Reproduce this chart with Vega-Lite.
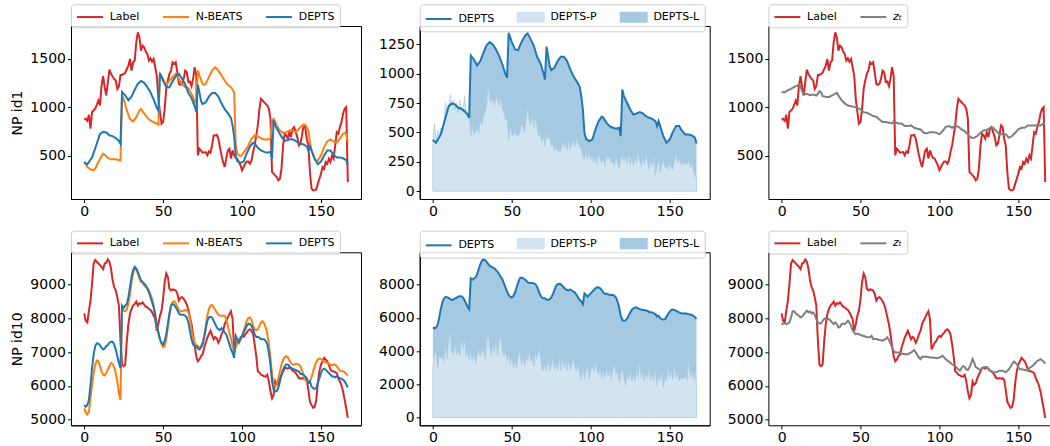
{
"$schema": "https://vega.github.io/schema/vega-lite/v6.json",
"background": "white",
"padding": {"left": 10, "top": 3, "right": 0, "bottom": 0},
"config": {
  "font": "DejaVu Sans",
  "view": {"stroke": "black", "strokeWidth": 1},
  "mark": {"invalid": "filter"},
  "axis": {"grid": false, "domain": true, "domainColor": "black", "domainWidth": 1, "tickColor": "black", "tickSize": 3.5, "tickWidth": 1, "labelFont": "DejaVu Sans", "labelFontSize": 14, "labelColor": "black", "labelPadding": 2, "labelFlush": false, "labelOverlap": false, "format": "d", "titleFont": "DejaVu Sans", "titleFontSize": 14, "titleFontWeight": "normal", "titleColor": "black", "titlePadding": 5},
  "legend": {"labelFont": "DejaVu Sans", "labelFontSize": 11, "labelColor": "black"}
},
"datasets": {
"id1": [
{"t":0,"l":873,"n":435,"d":435,"p":440,"z":1154},
{"t":1,"l":880,"p":577},
{"t":2,"l":860,"n":384,"d":412,"p":426,"z":1154},
{"t":3,"l":921,"p":526},
{"t":4,"l":778,"n":360,"p":469,"z":1174},
{"t":5,"l":950,"d":483,"p":540},
{"t":6,"n":350,"p":497,"z":1188},
{"t":7,"l":983,"n":367,"p":582},
{"t":8,"d":625,"p":753,"z":1209},
{"t":9,"l":1068,"n":435,"p":653},
{"t":10,"l":1017,"d":724,"p":696,"z":1222},
{"t":11,"l":1222,"n":497,"p":824,"z":1233},
{"t":12,"l":1318,"n":521,"d":747,"p":724,"z":1209},
{"t":13,"l":1205,"n":511,"p":781,"z":1164},
{"t":14,"l":1120,"d":739,"p":696,"z":1130},
{"t":15,"l":1257,"n":477,"p":753},
{"t":16,"l":1387,"d":710,"p":668,"z":1137},
{"t":17,"l":1342,"n":463,"p":781},
{"t":18,"d":702,"p":696,"z":1123},
{"t":19,"l":1290,"p":668},
{"t":20,"l":1274,"n":463,"d":682,"p":810,"z":1130},
{"t":21,"l":1188,"p":682},
{"t":22,"l":1215,"d":653,"p":668,"z":1120},
{"t":23,"l":1332,"n":452,"d":625,"p":639,"z":1137},
{"t":24,"l":1332,"n":1120,"d":1156,"p":469,"z":1164},
{"t":25,"n":1086,"p":560,"z":1154},
{"t":26,"l":1352,"d":1122,"p":483,"z":1113},
{"t":27,"l":1393,"n":966,"p":511},
{"t":28,"l":1428,"d":1071,"p":540,"z":1106},
{"t":29,"l":1496,"n":880,"p":497},
{"t":30,"l":1376,"d":1108,"p":611,"z":1103},
{"t":31,"l":1462,"n":853,"p":568},
{"t":32,"l":1480,"d":1179,"p":645,"z":1120},
{"t":33,"l":1667,"n":897,"p":668},
{"t":34,"l":1770,"d":1242,"p":724,"z":1140},
{"t":35,"l":1718,"n":966,"p":909,"z":1147},
{"t":36,"l":1582,"n":983,"d":1270,"p":781,"z":1120},
{"t":37,"l":1633,"n":956,"p":753},
{"t":38,"l":1616,"d":1250,"p":795,"z":1072},
{"t":39,"l":1571,"n":914,"p":724},
{"t":40,"l":1548,"d":1207,"p":810,"z":1038},
{"t":41,"l":1480,"n":873,"p":781},
{"t":42,"l":1503,"d":1151,"p":724,"z":1017},
{"t":43,"l":1469,"n":853,"p":810},
{"t":44,"l":1496,"d":1080,"p":696,"z":1010},
{"t":45,"l":1411,"n":839,"p":668},
{"t":46,"l":1325,"d":994,"p":611,"z":1003},
{"t":47,"l":1086,"n":819,"d":966,"p":611},
{"t":48,"l":949,"n":1342,"d":1349,"p":426,"z":993},
{"t":49,"l":829,"p":554},
{"t":50,"l":846,"n":1291,"d":1270,"p":483,"z":976},
{"t":51,"l":983,"p":469},
{"t":52,"l":1188,"n":1222,"d":1207,"p":511,"z":949},
{"t":53,"l":1274,"p":474},
{"t":54,"l":1342,"n":1274,"d":1202,"p":469,"z":942},
{"t":55,"l":1376,"d":1236,"p":497},
{"t":56,"l":1462,"n":1308,"p":568,"z":925},
{"t":57,"l":1445,"d":1293,"p":554},
{"t":58,"l":1462,"n":1342,"p":497,"z":908},
{"t":59,"l":1359,"d":1335,"p":611},
{"t":60,"l":1240,"n":1291,"d":1344,"p":710,"z":901},
{"t":61,"l":1230,"p":611},
{"t":62,"l":1240,"n":1240,"d":1293,"p":568,"z":873},
{"t":63,"l":1291,"p":653},
{"t":64,"l":1376,"n":1205,"d":1236,"p":540,"z":846},
{"t":65,"l":1359,"p":639},
{"t":66,"l":1257,"n":1195,"d":1145,"p":554,"z":846},
{"t":67,"l":1264,"p":469},
{"t":68,"l":1215,"n":1137,"d":1094,"p":497,"z":839},
{"t":69,"l":1291,"n":1103,"p":412},
{"t":70,"l":1411,"n":1051,"d":1009,"p":483,"z":832},
{"t":71,"l":1325,"n":1086,"d":952,"p":384,"z":853},
{"t":72,"l":504,"n":1376,"d":1230,"p":497,"z":846},
{"t":73,"l":572,"n":1325,"d":1151,"p":440},
{"t":74,"l":555,"d":1065,"p":469,"z":832},
{"t":75,"l":531,"n":1240,"d":1031,"p":384},
{"t":76,"n":1230,"p":398,"z":832},
{"t":77,"l":538,"n":1240,"d":1051,"p":341},
{"t":78,"l":504,"p":384,"z":805},
{"t":79,"l":545,"n":1308,"d":1108,"p":341},
{"t":80,"l":531,"p":341,"z":805},
{"t":81,"l":606,"n":1376,"d":1145,"p":341},
{"t":82,"l":709,"p":440,"z":812},
{"t":83,"l":709,"n":1411,"d":1145,"p":369},
{"t":84,"l":716,"p":426,"z":788},
{"t":85,"l":675,"n":1376,"d":1108,"p":355},
{"t":86,"l":589,"p":440,"z":778},
{"t":87,"l":504,"n":1325,"d":1037,"p":355},
{"t":88,"l":435,"p":398,"z":771},
{"t":89,"l":384,"n":1274,"d":980,"p":440},
{"t":90,"l":470,"p":384,"z":737},
{"t":91,"l":555,"n":1230,"d":938,"p":455},
{"t":92,"l":572,"p":398,"z":730},
{"t":93,"l":470,"n":1205,"d":889,"p":384},
{"t":94,"l":555,"d":810,"p":355,"z":743},
{"t":95,"l":504,"n":1154,"d":696,"p":298},
{"t":96,"l":477,"n":606,"d":497,"p":270,"z":743},
{"t":97,"l":470,"n":521,"d":446,"p":341},
{"t":98,"l":435,"n":504,"p":270,"z":737},
{"t":99,"l":401,"n":497,"d":426,"p":327},
{"t":100,"l":350,"n":511,"p":270,"z":720},
{"t":101,"l":384,"d":440,"p":298},
{"t":102,"l":418,"n":555,"p":241,"z":754},
{"t":103,"l":442,"d":526,"p":298},
{"t":104,"l":442,"n":606,"p":227,"z":798},
{"t":105,"l":418,"d":597,"p":327},
{"t":106,"l":452,"n":675,"p":270,"z":805},
{"t":107,"l":538,"d":634,"p":241},
{"t":108,"l":606,"n":709,"d":625,"p":284,"z":788},
{"t":109,"l":709,"p":213},
{"t":110,"l":812,"n":702,"d":582,"p":312,"z":805},
{"t":111,"l":983,"p":270},
{"t":112,"l":1086,"n":682,"d":554,"p":298,"z":798},
{"t":113,"l":1068,"p":241},
{"t":114,"l":1051,"n":668,"d":540,"p":256,"z":771},
{"t":115,"l":1034,"p":213},
{"t":116,"l":1017,"n":668,"d":531,"p":298,"z":754},
{"t":117,"l":983,"p":241},
{"t":118,"l":880,"n":675,"d":540,"p":199,"z":720},
{"t":119,"l":333,"n":863,"d":469,"p":270},
{"t":120,"l":316,"n":880,"d":866,"p":312,"z":685},
{"t":121,"l":298,"d":810,"p":256},
{"t":122,"l":281,"n":812,"p":298,"z":685},
{"t":123,"l":247,"d":753,"p":241},
{"t":124,"l":264,"n":760,"p":327,"z":703},
{"t":125,"l":367,"d":696,"p":227},
{"t":126,"l":606,"n":736,"p":284,"z":737},
{"t":127,"l":726,"d":653,"p":213},
{"t":128,"l":709,"n":743,"p":298,"z":761},
{"t":129,"l":675,"d":662,"p":241},
{"t":130,"l":743,"n":760,"p":341,"z":764},
{"t":131,"l":692,"d":673,"p":256},
{"t":132,"l":778,"n":760,"p":213,"z":788},
{"t":133,"l":795,"d":662,"p":298},
{"t":134,"l":743,"n":743,"p":227,"z":788},
{"t":135,"l":692,"d":639,"p":327},
{"t":136,"l":606,"n":778,"p":241,"z":754},
{"t":137,"l":623,"d":625,"p":185},
{"t":138,"l":709,"n":812,"p":270,"z":720},
{"t":139,"l":812,"d":616,"p":213},
{"t":140,"l":795,"n":819,"p":298,"z":720},
{"t":141,"l":675,"d":597,"p":142},
{"t":142,"l":606,"n":760,"d":554,"p":213,"z":720},
{"t":143,"l":333,"n":641,"d":597,"p":270},
{"t":144,"l":162,"n":555,"d":554,"p":156,"z":685},
{"t":145,"l":145,"p":227},
{"t":146,"l":145,"n":470,"d":469,"p":270,"z":703},
{"t":147,"l":155,"n":442,"p":199},
{"t":148,"l":213,"n":452,"d":412,"p":213,"z":737},
{"t":149,"l":264,"p":185},
{"t":150,"l":316,"n":504,"d":440,"p":241,"z":771},
{"t":151,"l":384,"p":199},
{"t":152,"l":367,"n":589,"d":503,"p":185,"z":788},
{"t":153,"l":435,"p":256},
{"t":154,"l":418,"n":648,"d":554,"p":327,"z":788},
{"t":155,"l":470,"p":241},
{"t":156,"l":435,"n":668,"d":554,"p":298,"z":812},
{"t":157,"l":504,"p":227},
{"t":158,"l":470,"n":648,"d":511,"p":256,"z":812},
{"t":159,"l":606,"p":227},
{"t":160,"l":743,"n":634,"d":483,"p":241,"z":812},
{"t":161,"l":726,"p":227},
{"t":162,"l":795,"n":675,"d":483,"p":270,"z":812},
{"t":163,"l":846,"p":199},
{"t":164,"l":932,"n":726,"d":474,"p":241,"z":812},
{"t":165,"l":983,"n":736,"p":170},
{"t":166,"l":1000,"n":726,"d":455,"p":142,"z":832},
{"t":167,"l":230,"n":634,"d":406,"p":99,"z":832}
],
"id10": [
{"t":0,"l":8150,"n":5330,"d":5430,"p":3100,"z":7812},
{"t":1,"l":7930,"n":5210,"d":5380,"p":3800,"z":7850},
{"t":2,"l":7880,"n":5150,"d":5430,"p":3900,"z":7860},
{"t":3,"l":8230,"n":5230,"d":5580,"p":2960,"z":7830},
{"t":4,"l":8530,"n":5630,"d":6030,"p":3700,"z":7850},
{"t":5,"l":9030,"n":6030,"d":6530,"p":3560,"z":7880},
{"t":6,"l":9630,"n":6380,"d":6930,"p":3700,"z":8030},
{"t":7,"l":9730,"n":6630,"d":7180,"p":3300,"z":8210},
{"t":8,"l":9680,"n":6750,"d":7260,"p":4400,"z":8210},
{"t":9,"l":9630,"n":6730,"d":7250,"p":3500,"z":8150},
{"t":10,"l":9580,"n":6580,"d":7210,"p":4600,"z":8110},
{"t":11,"l":9530,"n":6430,"d":7130,"p":5100,"z":8080},
{"t":12,"l":9460,"n":6330,"d":7080,"p":4000,"z":8030},
{"t":13,"l":9630,"n":6310,"d":7110,"p":3800,"z":8050},
{"t":14,"l":9650,"n":6380,"d":7180,"p":4500,"z":8110},
{"t":15,"l":9750,"n":6480,"d":7210,"p":3800,"z":8180},
{"t":16,"l":9680,"n":6580,"d":7280,"p":4100,"z":8230},
{"t":17,"l":9480,"n":6680,"d":7310,"p":3700,"z":8180},
{"t":18,"l":9130,"n":6650,"d":7310,"p":4800,"z":8210},
{"t":19,"l":8930,"n":6550,"d":7230,"p":4100,"z":8150},
{"t":20,"l":8830,"n":6380,"d":7080,"p":4700,"z":8180},
{"t":21,"l":8630,"n":6130,"d":6880,"p":3700,"z":8110},
{"t":22,"l":8380,"n":5780,"d":6680,"p":4000,"z":7980},
{"t":23,"l":7330,"n":5580,"d":6530,"p":3500,"z":7880},
{"t":24,"l":6630,"n":8280,"d":8380,"p":4100,"z":7850},
{"t":25,"l":6580,"n":8230,"d":8310,"p":3400,"z":7850},
{"t":26,"l":6630,"n":8210,"d":8380,"p":3900,"z":7930},
{"t":27,"l":7330,"n":8280,"d":8430,"p":3200,"z":7980},
{"t":28,"l":7830,"n":8430,"d":8630,"p":3700,"z":8010},
{"t":29,"l":8130,"n":8730,"d":8930,"p":4100,"z":7980},
{"t":30,"l":8280,"n":9080,"d":9230,"p":3700,"z":7980},
{"t":31,"l":8380,"n":9330,"d":9430,"p":4000,"z":7930},
{"t":32,"l":8430,"n":9480,"d":9530,"p":4200,"z":7880},
{"t":33,"l":8500,"n":9450,"d":9480,"p":3500,"z":7830},
{"t":34,"l":8380,"n":9330,"d":9380,"p":4500,"z":7880},
{"t":35,"l":8450,"n":9180,"d":9250,"p":5040,"z":7830},
{"t":36,"l":8430,"n":9080,"d":9130,"p":4240,"z":7730},
{"t":37,"l":8480,"n":9050,"d":9080,"p":3700,"z":7750},
{"t":38,"l":8410,"n":8980,"d":9030,"p":4500,"z":7830},
{"t":39,"l":8350,"n":8930,"d":8980,"p":3900,"z":7850},
{"t":40,"l":8330,"n":8910,"d":8880,"p":4700,"z":7830},
{"t":41,"l":8280,"n":8830,"d":8780,"p":3700,"z":7880},
{"t":42,"l":8250,"n":8710,"d":8630,"p":4640,"z":7930},
{"t":43,"l":8180,"n":8580,"d":8480,"p":4900,"z":7880},
{"t":44,"l":8080,"n":8380,"d":8330,"p":4040,"z":7780},
{"t":45,"l":7980,"n":8130,"d":8080,"p":3700,"z":7650},
{"t":46,"l":7630,"n":7830,"d":7830,"p":4000,"z":7580},
{"t":47,"l":7830,"n":7580,"d":7580,"p":3400,"z":7530},
{"t":48,"l":8080,"n":7380,"d":7380,"p":3800,"z":7550},
{"t":49,"l":8230,"n":7230,"d":7280,"p":3200,"z":7530},
{"t":50,"l":8580,"n":7150,"d":7230,"p":3700,"z":7510},
{"t":51,"l":9080,"n":7180,"d":7330,"p":3000},
{"t":52,"l":9330,"n":7380,"d":7530,"p":3500,"z":7480},
{"t":53,"l":9230,"n":7730,"d":7830,"p":3000},
{"t":54,"l":8880,"n":8130,"d":8130,"p":3600,"z":7450},
{"t":55,"l":8830,"n":8380,"d":8380,"p":4100},
{"t":56,"l":8860,"n":8480,"d":8430,"p":3200,"z":7440},
{"t":57,"l":8850,"n":8510,"d":8400,"p":3700,"z":7480},
{"t":58,"l":8830,"n":8450,"d":8330,"p":3100,"z":7390},
{"t":59,"l":8730,"n":8350,"d":8250,"p":3700},
{"t":60,"l":8530,"n":8250,"d":8150,"p":3400,"z":7390},
{"t":61,"l":8610,"n":8210,"d":8110,"p":4100},
{"t":62,"l":8630,"n":8210,"d":8110,"p":3400,"z":7360},
{"t":63,"l":8580,"n":8230,"d":8110,"p":3700},
{"t":64,"l":8510,"n":8250,"d":8080,"p":3100,"z":7340},
{"t":65,"l":8410,"n":8250,"d":8030,"p":4000},
{"t":66,"l":8250,"n":8180,"d":7880,"p":3500,"z":7390},
{"t":67,"l":8030,"n":7980,"d":7630,"p":4200,"z":7440},
{"t":68,"l":7830,"n":7680,"d":7380,"p":3700,"z":7360},
{"t":69,"l":7530,"n":7430,"d":7230,"p":3000,"z":7260},
{"t":70,"l":7180,"n":7280,"d":7180,"p":2800,"z":7140},
{"t":71,"l":6880,"n":7210,"d":7180,"p":3200,"z":7040},
{"t":72,"l":6730,"n":7180,"d":7110,"p":2900,"z":6990},
{"t":73,"l":6780,"n":7130,"d":7080,"p":3600},
{"t":74,"l":6880,"n":7180,"d":7130,"p":2800,"z":6990},
{"t":75,"l":6930,"n":7280,"d":7230,"p":3200},
{"t":76,"l":7130,"n":7480,"d":7430,"p":3600,"z":6960},
{"t":77,"l":7280,"n":7780,"d":7680,"p":2900},
{"t":78,"l":7430,"n":8080,"d":7930,"p":3400,"z":6940},
{"t":79,"l":7530,"n":8280,"d":8030,"p":2800},
{"t":80,"l":7630,"n":8380,"d":8050,"p":3600,"z":6940},
{"t":81,"l":7510,"n":8400,"d":8030,"p":2800},
{"t":82,"l":7380,"n":8330,"d":7930,"p":3700,"z":6990},
{"t":83,"l":7450,"n":8250,"d":7830,"p":3000},
{"t":84,"l":7410,"n":8180,"d":7730,"p":3400,"z":7060},
{"t":85,"l":7280,"n":8110,"d":7680,"p":2800},
{"t":86,"l":7380,"n":8080,"d":7650,"p":3500,"z":6920},
{"t":87,"l":7530,"n":8080,"d":7710,"p":2900,"z":6840},
{"t":88,"l":7630,"n":8080,"d":7650,"p":3200,"z":6790},
{"t":89,"l":7830,"n":8080,"d":7580,"p":3600,"z":6860},
{"t":90,"l":7930,"n":7980,"d":7530,"p":3000,"z":6860},
{"t":91,"l":8030,"n":7780,"d":7380,"p":2800},
{"t":92,"l":8130,"n":7580,"d":7230,"p":3200,"z":6860},
{"t":93,"l":8210,"n":7380,"d":7080,"p":2600},
{"t":94,"l":7980,"n":7180,"d":6980,"p":2300,"z":6840},
{"t":95,"l":7080,"n":6980,"d":6830,"p":3000},
{"t":96,"l":7180,"n":7150,"d":7480,"p":2300,"z":6840},
{"t":97,"l":7280,"n":7330,"d":7380,"p":2800},
{"t":98,"l":7330,"n":7380,"d":7280,"p":3100,"z":6820},
{"t":99,"l":7430,"n":7380,"d":7380,"p":2300},
{"t":100,"l":7480,"n":7480,"d":7480,"p":2800,"z":6840},
{"t":101,"l":7450,"n":7630,"d":7580,"p":3200},
{"t":102,"l":7530,"n":7780,"d":7680,"p":2700,"z":6890},
{"t":103,"l":7580,"n":7930,"d":7780,"p":3400},
{"t":104,"l":7650,"n":8010,"d":7850,"p":2800,"z":6790},
{"t":105,"l":7680,"n":8030,"d":7830,"p":2600},
{"t":106,"l":7630,"n":7950,"d":7780,"p":3000,"z":6720},
{"t":107,"l":7530,"n":7780,"d":7680,"p":2300},
{"t":108,"l":7230,"n":7680,"d":7530,"p":2800,"z":6640},
{"t":109,"l":6880,"n":7650,"d":7450,"p":2400},
{"t":110,"l":6430,"n":7680,"d":7450,"p":3000,"z":6590},
{"t":111,"l":6400,"n":7780,"d":7430,"p":2500},
{"t":112,"l":6330,"n":7880,"d":7380,"p":2800,"z":6490},
{"t":113,"l":6310,"n":7910,"d":7380,"p":2300,"z":6450},
{"t":114,"l":6280,"n":7850,"d":7380,"p":2800,"z":6530},
{"t":115,"l":6280,"n":7730,"d":7330,"p":3200,"z":6590},
{"t":116,"l":6330,"n":7530,"d":7230,"p":2600,"z":6560},
{"t":117,"l":6130,"n":7230,"d":6980,"p":2800,"z":6490},
{"t":118,"l":5830,"n":6830,"d":6630,"p":2100,"z":6470},
{"t":119,"l":5630,"n":6330,"d":6130,"p":2600,"z":6550},
{"t":120,"l":5730,"n":6050,"d":5880,"p":3000,"z":6660},
{"t":121,"l":6130,"n":5980,"d":5830,"p":2400,"z":6790},
{"t":122,"l":6030,"n":6050,"d":5850,"p":1900,"z":6690},
{"t":123,"l":6080,"n":6230,"d":5950,"p":2600,"z":6560},
{"t":124,"l":6230,"n":6430,"d":6130,"p":2300,"z":6530},
{"t":125,"l":6330,"n":6630,"d":6330,"p":2800,"z":6490},
{"t":126,"l":6430,"n":6780,"d":6480,"p":2200,"z":6470},
{"t":127,"l":6530,"n":6850,"d":6580,"p":2600},
{"t":128,"l":6530,"n":6880,"d":6630,"p":2200,"z":6550},
{"t":129,"l":6510,"n":6850,"d":6630,"p":2900},
{"t":130,"l":6550,"n":6750,"d":6580,"p":2400,"z":6560},
{"t":131,"l":6510,"n":6680,"d":6530,"p":3400},
{"t":132,"l":6450,"n":6630,"d":6510,"p":2400,"z":6450},
{"t":133,"l":6430,"n":6630,"d":6480,"p":2800},
{"t":134,"l":6380,"n":6650,"d":6480,"p":2200,"z":6400},
{"t":135,"l":6310,"n":6650,"d":6430,"p":2700},
{"t":136,"l":6230,"n":6630,"d":6430,"p":2400,"z":6400},
{"t":137,"l":6210,"n":6580,"d":6350,"p":3000},
{"t":138,"l":6230,"n":6450,"d":6350,"p":2300,"z":6450},
{"t":139,"l":6210,"n":6310,"d":6330,"p":2700},
{"t":140,"l":6230,"n":6180,"d":6280,"p":2200,"z":6450},
{"t":141,"l":6180,"n":6110,"d":6230,"p":3000},
{"t":142,"l":5880,"n":6080,"d":6080,"p":1900,"z":6400},
{"t":143,"l":5530,"n":6130,"d":6130,"p":2500,"z":6450},
{"t":144,"l":5430,"n":6250,"d":5980,"p":2200,"z":6490},
{"t":145,"l":5350,"n":6430,"d":5930,"p":2800},
{"t":146,"l":5380,"n":6580,"d":5910,"p":1800,"z":6640},
{"t":147,"l":5580,"n":6700,"d":5930,"p":2500,"z":6720},
{"t":148,"l":6080,"n":6780,"d":6080,"p":2200,"z":6690},
{"t":149,"l":6430,"n":6810,"d":6230,"p":3000,"z":6640},
{"t":150,"l":6630,"n":6800,"d":6380,"p":2400,"z":6560},
{"t":151,"l":6730,"n":6750,"d":6480,"p":2800,"z":6490},
{"t":152,"l":6830,"n":6730,"d":6510,"p":2300,"z":6490},
{"t":153,"l":6780,"n":6700,"d":6480,"p":3200},
{"t":154,"l":6730,"n":6680,"d":6430,"p":2400,"z":6470},
{"t":155,"l":6630,"n":6650,"d":6380,"p":2700},
{"t":156,"l":6480,"n":6630,"d":6330,"p":2200,"z":6450},
{"t":157,"l":6430,"n":6610,"d":6280,"p":2400,"z":6530},
{"t":158,"l":6430,"n":6630,"d":6280,"p":2300,"z":6560},
{"t":159,"l":6410,"n":6630,"d":6250,"p":2400,"z":6590},
{"t":160,"l":6380,"n":6580,"d":6280,"p":2500,"z":6640},
{"t":161,"l":6230,"n":6510,"d":6250,"p":2240,"z":6690},
{"t":162,"l":6130,"n":6450,"d":6230,"p":3600,"z":6740},
{"t":163,"l":6010,"n":6430,"d":6210,"p":2400,"z":6760},
{"t":164,"l":5830,"n":6430,"d":6180,"p":2800,"z":6790},
{"t":165,"l":5580,"n":6410,"d":6130,"p":2300,"z":6760},
{"t":166,"l":5330,"n":6350,"d":6050,"p":2800,"z":6720},
{"t":167,"l":5050,"n":6310,"d":5950,"p":1800,"z":6660}
]
},
"concat": [
  {
   "width": 290, "height": 173,
   "data": {"name": "id1"},
   "encoding": {"x": {"field": "t", "type": "quantitative", "title": null, "scale": {"domain": [-8.35, 175.35], "nice": false, "zero": false}, "axis": {"values": [0, 50, 100, 150], "labelOverlap": false}}},
   "layer": [
    {"mark": {"type": "line", "strokeWidth": 2}, "encoding": {"y": {"field": "l", "type": "quantitative", "title": "NP id1", "scale": {"domain": [55, 1835], "nice": false, "zero": false}, "axis": {"values": [500, 1000, 1500], "labelOverlap": false}}, "color": {"datum": "Label", "type": "nominal", "scale": {"domain": ["Label", "N-BEATS", "DEPTS"], "range": ["#d62728", "#ff7f0e", "#1f77b4"]}, "legend": {"orient": "none", "legendX": 0, "legendY": -21.7, "direction": "horizontal", "title": null, "symbolType": "M-1,0H3", "symbolSize": 169, "symbolStrokeWidth": 2, "labelOffset": 18.7, "columnPadding": 19, "padding": 5, "strokeColor": "#cccccc", "fillColor": "rgba(255,255,255,0.85)", "cornerRadius": 3}}}},
    {"mark": {"type": "line", "strokeWidth": 2}, "encoding": {"y": {"field": "n", "type": "quantitative", "title": "NP id1", "axis": {"values": [500, 1000, 1500], "labelOverlap": false}}, "color": {"datum": "N-BEATS", "type": "nominal"}}},
    {"mark": {"type": "line", "strokeWidth": 2}, "encoding": {"y": {"field": "d", "type": "quantitative", "title": "NP id1", "axis": {"values": [500, 1000, 1500], "labelOverlap": false}}, "color": {"datum": "DEPTS", "type": "nominal"}}}
   ]
  },
  {
   "width": 290, "height": 173,
   "data": {"name": "id1"},
   "encoding": {"x": {"field": "t", "type": "quantitative", "title": null, "scale": {"domain": [-8.35, 175.35], "nice": false, "zero": false}, "axis": {"values": [0, 50, 100, 150], "labelOverlap": false}}},
   "layer": [
    {"mark": {"type": "area", "opacity": 1}, "encoding": {"y": {"field": "d", "type": "quantitative", "title": null, "scale": {"domain": [-67, 1407], "nice": false, "zero": false}, "axis": {"values": [0, 250, 500, 750, 1000, 1250], "labelOverlap": false}}, "y2": {"datum": 0}, "color": {"datum": "DEPTS-L", "type": "nominal", "scale": {"domain": ["DEPTS", "DEPTS-P", "DEPTS-L"], "range": ["#1f77b4", "#d2e4f0", "#a5c9e1"]}, "legend": {"orient": "none", "legendX": 0, "legendY": -21.7, "direction": "horizontal", "title": null, "symbolType": "M-1,0H3", "symbolSize": 169, "symbolStrokeWidth": 2, "labelOffset": 18.7, "columnPadding": 19, "padding": 5, "strokeColor": "#cccccc", "fillColor": "rgba(255,255,255,0.85)", "cornerRadius": 3, "encoding": {"symbols": {"shape": {"value": {"expr": "datum.value === 'DEPTS' ? 'M-1,0H3' : 'M-1,-0.7H3V0.7H-1Z'"}}, "fill": {"value": {"expr": "datum.value === 'DEPTS-P' ? '#d2e4f0' : (datum.value === 'DEPTS-L' ? '#a5c9e1' : 'transparent')"}}, "stroke": {"value": {"expr": "datum.value === 'DEPTS' ? '#1f77b4' : 'transparent'"}}, "opacity": {"value": 1}}}}}}},
    {"mark": {"type": "area", "opacity": 1, "stroke": "#a9cbe3", "strokeWidth": 0.7}, "encoding": {"y": {"field": "p", "type": "quantitative", "title": null, "axis": {"values": [0, 250, 500, 750, 1000, 1250], "labelOverlap": false}}, "y2": {"datum": 0}, "color": {"datum": "DEPTS-P", "type": "nominal"}}},
    {"mark": {"type": "line", "strokeWidth": 2}, "encoding": {"y": {"field": "d", "type": "quantitative", "title": null, "axis": {"values": [0, 250, 500, 750, 1000, 1250], "labelOverlap": false}}, "color": {"datum": "DEPTS", "type": "nominal"}}}
   ]
  },
  {
   "width": 281, "height": 173,
   "view": {"stroke": null},
   "data": {"name": "id1"},
   "encoding": {"x": {"field": "t", "type": "quantitative", "title": null, "scale": {"domain": [-8.35, 169.65], "nice": false, "zero": false}, "axis": {"values": [0, 50, 100, 150], "labelOverlap": false}}},
   "layer": [
    {"mark": {"type": "line", "strokeWidth": 2}, "encoding": {"y": {"field": "l", "type": "quantitative", "title": null, "scale": {"domain": [55, 1835], "nice": false, "zero": false}, "axis": {"values": [500, 1000, 1500], "labelOverlap": false}}, "color": {"datum": "Label", "type": "nominal", "scale": {"domain": ["Label", "zₜ"], "range": ["#d62728", "#7f7f7f"]}, "legend": {"orient": "none", "legendX": 0, "legendY": -21.7, "direction": "horizontal", "title": null, "symbolType": "M-1,0H3", "symbolSize": 169, "symbolStrokeWidth": 2, "labelOffset": 18.7, "columnPadding": 19, "padding": 5, "strokeColor": "#cccccc", "fillColor": "rgba(255,255,255,0.85)", "cornerRadius": 3, "encoding": {"labels": {"fontStyle": {"value": {"expr": "datum.value === 'zₜ' ? 'italic' : 'normal'"}}}}}}}},
    {"mark": {"type": "line", "strokeWidth": 2}, "encoding": {"y": {"field": "z", "type": "quantitative", "title": null, "axis": {"values": [500, 1000, 1500], "labelOverlap": false}}, "color": {"datum": "zₜ", "type": "nominal"}}},
    {"data": {"values": [{}]}, "mark": {"type": "rule", "color": "black", "strokeWidth": 1}, "encoding": {"x": {"datum": -8.35, "type": "quantitative"}, "x2": {"datum": 169.65}, "y": {"datum": 1835, "type": "quantitative", "axis": {"values": [500, 1000, 1500], "labelOverlap": false}}}}
   ]
  },
  {
   "width": 290, "height": 173,
   "data": {"name": "id10"},
   "encoding": {"x": {"field": "t", "type": "quantitative", "title": null, "scale": {"domain": [-8.35, 175.35], "nice": false, "zero": false}, "axis": {"values": [0, 50, 100, 150], "labelOverlap": false}}},
   "layer": [
    {"mark": {"type": "line", "strokeWidth": 2}, "encoding": {"y": {"field": "l", "type": "quantitative", "title": "NP id10", "scale": {"domain": [4830, 9961], "nice": false, "zero": false}, "axis": {"values": [5000, 6000, 7000, 8000, 9000], "labelOverlap": false}}, "color": {"datum": "Label", "type": "nominal", "scale": {"domain": ["Label", "N-BEATS", "DEPTS"], "range": ["#d62728", "#ff7f0e", "#1f77b4"]}, "legend": {"orient": "none", "legendX": 0, "legendY": -21.7, "direction": "horizontal", "title": null, "symbolType": "M-1,0H3", "symbolSize": 169, "symbolStrokeWidth": 2, "labelOffset": 18.7, "columnPadding": 19, "padding": 5, "strokeColor": "#cccccc", "fillColor": "rgba(255,255,255,0.85)", "cornerRadius": 3}}}},
    {"mark": {"type": "line", "strokeWidth": 2}, "encoding": {"y": {"field": "n", "type": "quantitative", "title": "NP id10", "axis": {"values": [5000, 6000, 7000, 8000, 9000], "labelOverlap": false}}, "color": {"datum": "N-BEATS", "type": "nominal"}}},
    {"mark": {"type": "line", "strokeWidth": 2}, "encoding": {"y": {"field": "d", "type": "quantitative", "title": "NP id10", "axis": {"values": [5000, 6000, 7000, 8000, 9000], "labelOverlap": false}}, "color": {"datum": "DEPTS", "type": "nominal"}}}
   ]
  },
  {
   "width": 290, "height": 173,
   "data": {"name": "id10"},
   "encoding": {"x": {"field": "t", "type": "quantitative", "title": null, "scale": {"domain": [-8.35, 175.35], "nice": false, "zero": false}, "axis": {"values": [0, 50, 100, 150], "labelOverlap": false}}},
   "layer": [
    {"mark": {"type": "area", "opacity": 1}, "encoding": {"y": {"field": "d", "type": "quantitative", "title": null, "scale": {"domain": [-460, 9950], "nice": false, "zero": false}, "axis": {"values": [0, 2000, 4000, 6000, 8000], "labelOverlap": false}}, "y2": {"datum": 0}, "color": {"datum": "DEPTS-L", "type": "nominal", "scale": {"domain": ["DEPTS", "DEPTS-P", "DEPTS-L"], "range": ["#1f77b4", "#d2e4f0", "#a5c9e1"]}, "legend": {"orient": "none", "legendX": 0, "legendY": -21.7, "direction": "horizontal", "title": null, "symbolType": "M-1,0H3", "symbolSize": 169, "symbolStrokeWidth": 2, "labelOffset": 18.7, "columnPadding": 19, "padding": 5, "strokeColor": "#cccccc", "fillColor": "rgba(255,255,255,0.85)", "cornerRadius": 3, "encoding": {"symbols": {"shape": {"value": {"expr": "datum.value === 'DEPTS' ? 'M-1,0H3' : 'M-1,-0.7H3V0.7H-1Z'"}}, "fill": {"value": {"expr": "datum.value === 'DEPTS-P' ? '#d2e4f0' : (datum.value === 'DEPTS-L' ? '#a5c9e1' : 'transparent')"}}, "stroke": {"value": {"expr": "datum.value === 'DEPTS' ? '#1f77b4' : 'transparent'"}}, "opacity": {"value": 1}}}}}}},
    {"mark": {"type": "area", "opacity": 1, "stroke": "#a9cbe3", "strokeWidth": 0.7}, "encoding": {"y": {"field": "p", "type": "quantitative", "title": null, "axis": {"values": [0, 2000, 4000, 6000, 8000], "labelOverlap": false}}, "y2": {"datum": 0}, "color": {"datum": "DEPTS-P", "type": "nominal"}}},
    {"mark": {"type": "line", "strokeWidth": 2}, "encoding": {"y": {"field": "d", "type": "quantitative", "title": null, "axis": {"values": [0, 2000, 4000, 6000, 8000], "labelOverlap": false}}, "color": {"datum": "DEPTS", "type": "nominal"}}}
   ]
  },
  {
   "width": 281, "height": 173,
   "view": {"stroke": null},
   "data": {"name": "id10"},
   "encoding": {"x": {"field": "t", "type": "quantitative", "title": null, "scale": {"domain": [-8.35, 169.65], "nice": false, "zero": false}, "axis": {"values": [0, 50, 100, 150], "labelOverlap": false}}},
   "layer": [
    {"mark": {"type": "line", "strokeWidth": 2}, "encoding": {"y": {"field": "l", "type": "quantitative", "title": null, "scale": {"domain": [4830, 9961], "nice": false, "zero": false}, "axis": {"values": [5000, 6000, 7000, 8000, 9000], "labelOverlap": false}}, "color": {"datum": "Label", "type": "nominal", "scale": {"domain": ["Label", "zₜ"], "range": ["#d62728", "#7f7f7f"]}, "legend": {"orient": "none", "legendX": 0, "legendY": -21.7, "direction": "horizontal", "title": null, "symbolType": "M-1,0H3", "symbolSize": 169, "symbolStrokeWidth": 2, "labelOffset": 18.7, "columnPadding": 19, "padding": 5, "strokeColor": "#cccccc", "fillColor": "rgba(255,255,255,0.85)", "cornerRadius": 3, "encoding": {"labels": {"fontStyle": {"value": {"expr": "datum.value === 'zₜ' ? 'italic' : 'normal'"}}}}}}}},
    {"mark": {"type": "line", "strokeWidth": 2}, "encoding": {"y": {"field": "z", "type": "quantitative", "title": null, "axis": {"values": [5000, 6000, 7000, 8000, 9000], "labelOverlap": false}}, "color": {"datum": "zₜ", "type": "nominal"}}},
    {"data": {"values": [{}]}, "mark": {"type": "rule", "color": "black", "strokeWidth": 1}, "encoding": {"x": {"datum": -8.35, "type": "quantitative"}, "x2": {"datum": 169.65}, "y": {"datum": 9961, "type": "quantitative", "axis": {"values": [5000, 6000, 7000, 8000, 9000], "labelOverlap": false}}}}
   ]
  }
],
"columns": 3,
"spacing": {"row": 53.3, "column": 58.7},
"bounds": "flush",
"resolve": {"scale": {"x": "independent", "y": "independent", "color": "independent"}, "legend": {"color": "independent"}, "axis": {"x": "independent", "y": "independent"}}
}
